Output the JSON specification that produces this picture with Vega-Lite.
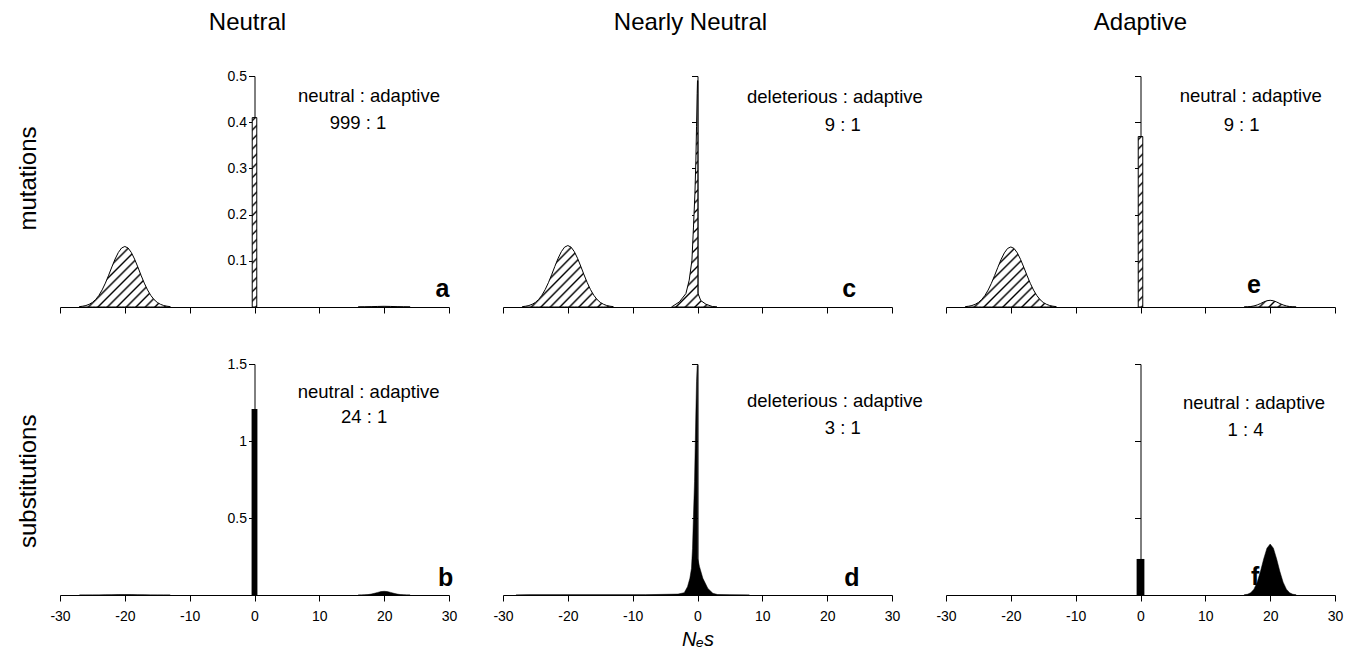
{
  "$schema": "https://vega.github.io/schema/vega-lite/v6.json",
  "background": "white",
  "padding": {"left": 16, "top": 10, "right": 5, "bottom": 5},
  "config": {
    "view": {"stroke": null},
    "font": "Liberation Sans",
    "axis": {"domainColor": "black", "tickColor": "black", "labelColor": "black", "titleColor": "black", "labelFont": "Liberation Sans", "titleFont": "Liberation Sans", "labelFontSize": 14, "tickSize": 6, "grid": false, "labelFlush": false, "domainWidth": 1, "tickWidth": 1},
    "title": {"font": "Liberation Sans", "fontSize": 24, "fontWeight": "normal", "color": "black"},
    "text": {"font": "Liberation Sans", "color": "black"}
  },
  "datasets": {
    "a_del": [
      {"s": -27, "density": 0.0008}, {"s": -26.5, "density": 0.0017}, {"s": -26, "density": 0.0032}, {"s": -25.5, "density": 0.0058}, {"s": -25, "density": 0.0099}, {"s": -24.5, "density": 0.0162}, {"s": -24, "density": 0.0251}, {"s": -23.5, "density": 0.037}, {"s": -23, "density": 0.0517}, {"s": -22.5, "density": 0.0687}, {"s": -22, "density": 0.0867}, {"s": -21.5, "density": 0.1038}, {"s": -21, "density": 0.118}, {"s": -20.5, "density": 0.1277}, {"s": -20, "density": 0.131}, {"s": -19.5, "density": 0.1277}, {"s": -19, "density": 0.118}, {"s": -18.5, "density": 0.1038}, {"s": -18, "density": 0.0867}, {"s": -17.5, "density": 0.0687}, {"s": -17, "density": 0.0517}, {"s": -16.5, "density": 0.037}, {"s": -16, "density": 0.0251}, {"s": -15.5, "density": 0.0162}, {"s": -15, "density": 0.0099}, {"s": -14.5, "density": 0.0058}, {"s": -14, "density": 0.0032}, {"s": -13.5, "density": 0.0017}, {"s": -13, "density": 0.0008}
    ],
    "a_neu": [{"from": -0.35, "to": 0.35, "density": 0.41}],
    "a_ada": [
      {"s": 16, "density": 0.0001}, {"s": 17, "density": 0.0003}, {"s": 18, "density": 0.0007}, {"s": 19, "density": 0.0012}, {"s": 20, "density": 0.0015}, {"s": 21, "density": 0.0012}, {"s": 22, "density": 0.0007}, {"s": 23, "density": 0.0003}, {"s": 24, "density": 0.0001}
    ],
    "b_del": [
      {"s": -27, "density": 0}, {"s": -26, "density": 0.0001}, {"s": -25, "density": 0.0003}, {"s": -24, "density": 0.0006}, {"s": -23, "density": 0.0012}, {"s": -22, "density": 0.002}, {"s": -21, "density": 0.0027}, {"s": -20, "density": 0.003}, {"s": -19, "density": 0.0027}, {"s": -18, "density": 0.002}, {"s": -17, "density": 0.0012}, {"s": -16, "density": 0.0006}, {"s": -15, "density": 0.0003}, {"s": -14, "density": 0.0001}, {"s": -13, "density": 0}
    ],
    "b_neu": [{"from": -0.45, "to": 0.45, "density": 1.208}],
    "b_ada": [
      {"s": 16, "density": 0.0001}, {"s": 16.5, "density": 0.0003}, {"s": 17, "density": 0.0011}, {"s": 17.5, "density": 0.0027}, {"s": 18, "density": 0.006}, {"s": 18.5, "density": 0.011}, {"s": 19, "density": 0.017}, {"s": 19.5, "density": 0.022}, {"s": 20, "density": 0.024}, {"s": 20.5, "density": 0.022}, {"s": 21, "density": 0.017}, {"s": 21.5, "density": 0.011}, {"s": 22, "density": 0.006}, {"s": 22.5, "density": 0.0027}, {"s": 23, "density": 0.0011}, {"s": 23.5, "density": 0.0003}, {"s": 24, "density": 0.0001}
    ],
    "c_del": [
      {"s": -27, "density": 0.0008}, {"s": -26.5, "density": 0.0017}, {"s": -26, "density": 0.0032}, {"s": -25.5, "density": 0.0059}, {"s": -25, "density": 0.01}, {"s": -24.5, "density": 0.0164}, {"s": -24, "density": 0.0255}, {"s": -23.5, "density": 0.0376}, {"s": -23, "density": 0.0525}, {"s": -22.5, "density": 0.0697}, {"s": -22, "density": 0.088}, {"s": -21.5, "density": 0.1054}, {"s": -21, "density": 0.1198}, {"s": -20.5, "density": 0.1296}, {"s": -20, "density": 0.133}, {"s": -19.5, "density": 0.1296}, {"s": -19, "density": 0.1198}, {"s": -18.5, "density": 0.1054}, {"s": -18, "density": 0.088}, {"s": -17.5, "density": 0.0697}, {"s": -17, "density": 0.0525}, {"s": -16.5, "density": 0.0376}, {"s": -16, "density": 0.0255}, {"s": -15.5, "density": 0.0164}, {"s": -15, "density": 0.01}, {"s": -14.5, "density": 0.0059}, {"s": -14, "density": 0.0032}, {"s": -13.5, "density": 0.0017}, {"s": -13, "density": 0.0008}
    ],
    "c_nn": [
      {"s": -4, "density": 0}, {"s": -3.9, "density": 0.001}, {"s": -2.8, "density": 0.011}, {"s": -1.79, "density": 0.029}, {"s": -1.28, "density": 0.058}, {"s": -0.86, "density": 0.101}, {"s": -0.62, "density": 0.173}, {"s": -0.4, "density": 0.245}, {"s": -0.25, "density": 0.318}, {"s": -0.15, "density": 0.39}, {"s": -0.05, "density": 0.462}, {"s": 0, "density": 0.49}, {"s": 0.05, "density": 0.49}, {"s": 0.06, "density": 0.03}, {"s": 0.5, "density": 0.014}, {"s": 1.3, "density": 0.006}, {"s": 2.3, "density": 0.001}, {"s": 3, "density": 0}
    ],
    "d_nn": [
      {"s": -28, "density": 0}, {"s": -26, "density": 0.002}, {"s": -8, "density": 0.002}, {"s": -3, "density": 0.006}, {"s": -2.05, "density": 0.015}, {"s": -1.54, "density": 0.054}, {"s": -1.18, "density": 0.108}, {"s": -0.93, "density": 0.173}, {"s": -0.77, "density": 0.303}, {"s": -0.62, "density": 0.52}, {"s": -0.46, "density": 0.736}, {"s": -0.36, "density": 0.952}, {"s": -0.26, "density": 1.169}, {"s": -0.15, "density": 1.385}, {"s": -0.05, "density": 1.49}, {"s": 0.02, "density": 1.49}, {"s": 0.03, "density": 0.238}, {"s": 0.31, "density": 0.184}, {"s": 0.83, "density": 0.108}, {"s": 1.6, "density": 0.043}, {"s": 2.37, "density": 0.011}, {"s": 3.1, "density": 0.003}, {"s": 5, "density": 0.001}, {"s": 8, "density": 0}
    ],
    "e_del": [
      {"s": -27, "density": 0.0008}, {"s": -26.5, "density": 0.0017}, {"s": -26, "density": 0.0032}, {"s": -25.5, "density": 0.0058}, {"s": -25, "density": 0.0098}, {"s": -24.5, "density": 0.0161}, {"s": -24, "density": 0.0249}, {"s": -23.5, "density": 0.0367}, {"s": -23, "density": 0.0513}, {"s": -22.5, "density": 0.0682}, {"s": -22, "density": 0.086}, {"s": -21.5, "density": 0.103}, {"s": -21, "density": 0.1171}, {"s": -20.5, "density": 0.1267}, {"s": -20, "density": 0.13}, {"s": -19.5, "density": 0.1267}, {"s": -19, "density": 0.1171}, {"s": -18.5, "density": 0.103}, {"s": -18, "density": 0.086}, {"s": -17.5, "density": 0.0682}, {"s": -17, "density": 0.0513}, {"s": -16.5, "density": 0.0367}, {"s": -16, "density": 0.0249}, {"s": -15.5, "density": 0.0161}, {"s": -15, "density": 0.0098}, {"s": -14.5, "density": 0.0058}, {"s": -14, "density": 0.0032}, {"s": -13.5, "density": 0.0017}, {"s": -13, "density": 0.0008}
    ],
    "e_neu": [{"from": -0.35, "to": 0.35, "density": 0.369}],
    "e_ada": [
      {"s": 16, "density": 0.0001}, {"s": 16.5, "density": 0.0004}, {"s": 17, "density": 0.001}, {"s": 17.5, "density": 0.0023}, {"s": 18, "density": 0.0044}, {"s": 18.5, "density": 0.0074}, {"s": 19, "density": 0.0108}, {"s": 19.5, "density": 0.0135}, {"s": 20, "density": 0.0145}, {"s": 20.5, "density": 0.0135}, {"s": 21, "density": 0.0108}, {"s": 21.5, "density": 0.0074}, {"s": 22, "density": 0.0044}, {"s": 22.5, "density": 0.0023}, {"s": 23, "density": 0.001}, {"s": 23.5, "density": 0.0004}, {"s": 24, "density": 0.0001}
    ],
    "f_neu": [{"from": -0.6, "to": 0.6, "density": 0.234}],
    "f_ada": [
      {"s": 16, "density": 0.0013}, {"s": 16.5, "density": 0.0047}, {"s": 17, "density": 0.0145}, {"s": 17.5, "density": 0.038}, {"s": 18, "density": 0.083}, {"s": 18.5, "density": 0.152}, {"s": 19, "density": 0.234}, {"s": 19.5, "density": 0.304}, {"s": 20, "density": 0.331}, {"s": 20.5, "density": 0.304}, {"s": 21, "density": 0.234}, {"s": 21.5, "density": 0.152}, {"s": 22, "density": 0.083}, {"s": 22.5, "density": 0.038}, {"s": 23, "density": 0.0145}, {"s": 23.5, "density": 0.0047}, {"s": 24, "density": 0.0013}
    ]
  },
  "vconcat": [
    {
      "title": {"text": "mutations", "orient": "left", "offset": 19, "dx": 83},
      "spacing": 54,
      "bounds": "flush",
      "hconcat": [
        {
          "width": 389, "height": 231,
          "title": {"text": "Neutral", "offset": 34, "dx": -7},
          "layer": [
            {
              "data": {"name": "a_del"},
              "mark": {"type": "area", "stroke": "black", "strokeWidth": 1, "fill": {"gradient": "linear", "x1": 0, "y1": 0, "x2": 1.5253, "y2": 1.017, "stops": [{"offset":0.005,"color":"white"},{"offset":0.015,"color":"black"},{"offset":0.025,"color":"white"},{"offset":0.0525,"color":"white"},{"offset":0.0625,"color":"black"},{"offset":0.0725,"color":"white"},{"offset":0.1,"color":"white"},{"offset":0.11,"color":"black"},{"offset":0.12,"color":"white"},{"offset":0.1475,"color":"white"},{"offset":0.1575,"color":"black"},{"offset":0.1675,"color":"white"},{"offset":0.195,"color":"white"},{"offset":0.205,"color":"black"},{"offset":0.215,"color":"white"},{"offset":0.2425,"color":"white"},{"offset":0.2525,"color":"black"},{"offset":0.2625,"color":"white"},{"offset":0.29,"color":"white"},{"offset":0.3,"color":"black"},{"offset":0.31,"color":"white"},{"offset":0.3375,"color":"white"},{"offset":0.3475,"color":"black"},{"offset":0.3575,"color":"white"},{"offset":0.385,"color":"white"},{"offset":0.395,"color":"black"},{"offset":0.405,"color":"white"},{"offset":0.4325,"color":"white"},{"offset":0.4425,"color":"black"},{"offset":0.4525,"color":"white"},{"offset":0.48,"color":"white"},{"offset":0.49,"color":"black"},{"offset":0.5,"color":"white"},{"offset":0.5275,"color":"white"},{"offset":0.5375,"color":"black"},{"offset":0.5475,"color":"white"},{"offset":0.575,"color":"white"},{"offset":0.585,"color":"black"},{"offset":0.595,"color":"white"},{"offset":0.6225,"color":"white"},{"offset":0.6325,"color":"black"},{"offset":0.6425,"color":"white"},{"offset":0.67,"color":"white"},{"offset":0.68,"color":"black"},{"offset":0.69,"color":"white"},{"offset":0.7175,"color":"white"},{"offset":0.7275,"color":"black"},{"offset":0.7375,"color":"white"},{"offset":0.765,"color":"white"},{"offset":0.775,"color":"black"},{"offset":0.785,"color":"white"}]}},
              "encoding": {
                "x": {"field": "s", "type": "quantitative", "scale": {"domain": [-30, 30], "nice": false, "zero": false}, "axis": {"values": [-30, -20, -10, 0, 10, 20, 30], "labels": false, "title": null}},
                "y": {"field": "density", "type": "quantitative", "scale": {"domain": [0, 0.5], "nice": false}, "axis": {"values": [0.1, 0.2, 0.3, 0.4, 0.5], "offset": -194.5, "format": "~g", "labelPadding": 2, "title": null}}
              }
            },
            {
              "data": {"name": "a_neu"},
              "mark": {"type": "rect", "stroke": "black", "strokeWidth": 1, "fill": {"gradient": "linear", "x1": 0, "y1": 0, "x2": 0.0253, "y2": 1.0554, "stops": [{"offset":0.005,"color":"white"},{"offset":0.015,"color":"black"},{"offset":0.025,"color":"white"},{"offset":0.0525,"color":"white"},{"offset":0.0625,"color":"black"},{"offset":0.0725,"color":"white"},{"offset":0.1,"color":"white"},{"offset":0.11,"color":"black"},{"offset":0.12,"color":"white"},{"offset":0.1475,"color":"white"},{"offset":0.1575,"color":"black"},{"offset":0.1675,"color":"white"},{"offset":0.195,"color":"white"},{"offset":0.205,"color":"black"},{"offset":0.215,"color":"white"},{"offset":0.2425,"color":"white"},{"offset":0.2525,"color":"black"},{"offset":0.2625,"color":"white"},{"offset":0.29,"color":"white"},{"offset":0.3,"color":"black"},{"offset":0.31,"color":"white"},{"offset":0.3375,"color":"white"},{"offset":0.3475,"color":"black"},{"offset":0.3575,"color":"white"},{"offset":0.385,"color":"white"},{"offset":0.395,"color":"black"},{"offset":0.405,"color":"white"},{"offset":0.4325,"color":"white"},{"offset":0.4425,"color":"black"},{"offset":0.4525,"color":"white"},{"offset":0.48,"color":"white"},{"offset":0.49,"color":"black"},{"offset":0.5,"color":"white"},{"offset":0.5275,"color":"white"},{"offset":0.5375,"color":"black"},{"offset":0.5475,"color":"white"},{"offset":0.575,"color":"white"},{"offset":0.585,"color":"black"},{"offset":0.595,"color":"white"},{"offset":0.6225,"color":"white"},{"offset":0.6325,"color":"black"},{"offset":0.6425,"color":"white"},{"offset":0.67,"color":"white"},{"offset":0.68,"color":"black"},{"offset":0.69,"color":"white"},{"offset":0.7175,"color":"white"},{"offset":0.7275,"color":"black"},{"offset":0.7375,"color":"white"},{"offset":0.765,"color":"white"},{"offset":0.775,"color":"black"},{"offset":0.785,"color":"white"},{"offset":0.8125,"color":"white"},{"offset":0.8225,"color":"black"},{"offset":0.8325,"color":"white"},{"offset":0.86,"color":"white"},{"offset":0.87,"color":"black"},{"offset":0.88,"color":"white"},{"offset":0.9075,"color":"white"},{"offset":0.9175,"color":"black"},{"offset":0.9275,"color":"white"},{"offset":0.955,"color":"white"},{"offset":0.965,"color":"black"},{"offset":0.975,"color":"white"}]}},
              "encoding": {"x": {"field": "from", "type": "quantitative"}, "x2": {"field": "to"}, "y": {"field": "density", "type": "quantitative"}, "y2": {"datum": 0}}
            },
            {
              "data": {"name": "a_ada"},
              "mark": {"type": "area", "fill": "white", "stroke": "black", "strokeWidth": 1},
              "encoding": {"x": {"field": "s", "type": "quantitative"}, "y": {"field": "density", "type": "quantitative"}}
            },
            {"data": {"values": [{"label": "neutral : adaptive"}]}, "mark": {"type": "text", "fontSize": 18.5, "baseline": "middle", "align": "center"}, "encoding": {"text": {"field": "label"}, "x": {"datum": 17.66}, "y": {"datum": 0.4567}}},
            {"data": {"values": [{"label": "999 : 1"}]}, "mark": {"type": "text", "fontSize": 18.5, "baseline": "middle", "align": "center"}, "encoding": {"text": {"field": "label"}, "x": {"datum": 15.97}, "y": {"datum": 0.398}}},
            {"data": {"values": [{"label": "a"}]}, "mark": {"type": "text", "fontSize": 25, "fontWeight": "bold", "baseline": "alphabetic", "align": "center"}, "encoding": {"text": {"field": "label"}, "x": {"datum": 29}, "y": {"datum": 0.0216}}}
          ]
        },
        {
          "width": 389, "height": 231,
          "title": {"text": "Nearly Neutral", "offset": 41, "dx": -7},
          "layer": [
            {
              "data": {"name": "c_del"},
              "mark": {"type": "area", "stroke": "black", "strokeWidth": 1, "fill": {"gradient": "linear", "x1": 0, "y1": 0, "x2": 1.5253, "y2": 1.017, "stops": [{"offset":0.005,"color":"white"},{"offset":0.015,"color":"black"},{"offset":0.025,"color":"white"},{"offset":0.0525,"color":"white"},{"offset":0.0625,"color":"black"},{"offset":0.0725,"color":"white"},{"offset":0.1,"color":"white"},{"offset":0.11,"color":"black"},{"offset":0.12,"color":"white"},{"offset":0.1475,"color":"white"},{"offset":0.1575,"color":"black"},{"offset":0.1675,"color":"white"},{"offset":0.195,"color":"white"},{"offset":0.205,"color":"black"},{"offset":0.215,"color":"white"},{"offset":0.2425,"color":"white"},{"offset":0.2525,"color":"black"},{"offset":0.2625,"color":"white"},{"offset":0.29,"color":"white"},{"offset":0.3,"color":"black"},{"offset":0.31,"color":"white"},{"offset":0.3375,"color":"white"},{"offset":0.3475,"color":"black"},{"offset":0.3575,"color":"white"},{"offset":0.385,"color":"white"},{"offset":0.395,"color":"black"},{"offset":0.405,"color":"white"},{"offset":0.4325,"color":"white"},{"offset":0.4425,"color":"black"},{"offset":0.4525,"color":"white"},{"offset":0.48,"color":"white"},{"offset":0.49,"color":"black"},{"offset":0.5,"color":"white"},{"offset":0.5275,"color":"white"},{"offset":0.5375,"color":"black"},{"offset":0.5475,"color":"white"},{"offset":0.575,"color":"white"},{"offset":0.585,"color":"black"},{"offset":0.595,"color":"white"},{"offset":0.6225,"color":"white"},{"offset":0.6325,"color":"black"},{"offset":0.6425,"color":"white"},{"offset":0.67,"color":"white"},{"offset":0.68,"color":"black"},{"offset":0.69,"color":"white"},{"offset":0.7175,"color":"white"},{"offset":0.7275,"color":"black"},{"offset":0.7375,"color":"white"},{"offset":0.765,"color":"white"},{"offset":0.775,"color":"black"},{"offset":0.785,"color":"white"}]}},
              "encoding": {
                "x": {"field": "s", "type": "quantitative", "scale": {"domain": [-30, 30], "nice": false, "zero": false}, "axis": {"values": [-30, -20, -10, 0, 10, 20, 30], "labels": false, "title": null}},
                "y": {"field": "density", "type": "quantitative", "scale": {"domain": [0, 0.5], "nice": false}, "axis": {"values": [0.1, 0.2, 0.3, 0.4, 0.5], "offset": -194.5, "labels": false, "title": null}}
              }
            },
            {
              "data": {"name": "c_nn"},
              "mark": {"type": "area", "stroke": "black", "strokeWidth": 1, "fill": {"gradient": "linear", "x1": 1, "y1": 1, "x2": 0.8297, "y2": 0.1507, "stops": [{"offset":0.005,"color":"white"},{"offset":0.015,"color":"black"},{"offset":0.025,"color":"white"},{"offset":0.0525,"color":"white"},{"offset":0.0625,"color":"black"},{"offset":0.0725,"color":"white"},{"offset":0.1,"color":"white"},{"offset":0.11,"color":"black"},{"offset":0.12,"color":"white"},{"offset":0.1475,"color":"white"},{"offset":0.1575,"color":"black"},{"offset":0.1675,"color":"white"},{"offset":0.195,"color":"white"},{"offset":0.205,"color":"black"},{"offset":0.215,"color":"white"},{"offset":0.2425,"color":"white"},{"offset":0.2525,"color":"black"},{"offset":0.2625,"color":"white"},{"offset":0.29,"color":"white"},{"offset":0.3,"color":"black"},{"offset":0.31,"color":"white"},{"offset":0.3375,"color":"white"},{"offset":0.3475,"color":"black"},{"offset":0.3575,"color":"white"},{"offset":0.385,"color":"white"},{"offset":0.395,"color":"black"},{"offset":0.405,"color":"white"},{"offset":0.4325,"color":"white"},{"offset":0.4425,"color":"black"},{"offset":0.4525,"color":"white"},{"offset":0.48,"color":"white"},{"offset":0.49,"color":"black"},{"offset":0.5,"color":"white"},{"offset":0.5275,"color":"white"},{"offset":0.5375,"color":"black"},{"offset":0.5475,"color":"white"},{"offset":0.575,"color":"white"},{"offset":0.585,"color":"black"},{"offset":0.595,"color":"white"},{"offset":0.6225,"color":"white"},{"offset":0.6325,"color":"black"},{"offset":0.6425,"color":"white"},{"offset":0.67,"color":"white"},{"offset":0.68,"color":"black"},{"offset":0.69,"color":"white"},{"offset":0.7175,"color":"white"},{"offset":0.7275,"color":"black"},{"offset":0.7375,"color":"white"},{"offset":0.765,"color":"white"},{"offset":0.775,"color":"black"},{"offset":0.785,"color":"white"},{"offset":0.8125,"color":"white"},{"offset":0.8225,"color":"black"},{"offset":0.8325,"color":"white"},{"offset":0.86,"color":"white"},{"offset":0.87,"color":"black"},{"offset":0.88,"color":"white"},{"offset":0.9075,"color":"white"},{"offset":0.9175,"color":"black"},{"offset":0.9275,"color":"white"},{"offset":0.955,"color":"white"},{"offset":0.965,"color":"black"},{"offset":0.975,"color":"white"}]}},
              "encoding": {"x": {"field": "s", "type": "quantitative"}, "y": {"field": "density", "type": "quantitative"}}
            },
            {"data": {"values": [{"label": "deleterious : adaptive"}]}, "mark": {"type": "text", "fontSize": 18.5, "baseline": "middle", "align": "center"}, "encoding": {"text": {"field": "label"}, "x": {"datum": 21.2}, "y": {"datum": 0.4545}}},
            {"data": {"values": [{"label": "9 : 1"}]}, "mark": {"type": "text", "fontSize": 18.5, "baseline": "middle", "align": "center"}, "encoding": {"text": {"field": "label"}, "x": {"datum": 22.4}, "y": {"datum": 0.394}}},
            {"data": {"values": [{"label": "c"}]}, "mark": {"type": "text", "fontSize": 25, "fontWeight": "bold", "baseline": "alphabetic", "align": "center"}, "encoding": {"text": {"field": "label"}, "x": {"datum": 23.4}, "y": {"datum": 0.0216}}}
          ]
        },
        {
          "width": 389, "height": 231,
          "title": {"text": "Adaptive", "offset": 41},
          "layer": [
            {
              "data": {"name": "e_del"},
              "mark": {"type": "area", "stroke": "black", "strokeWidth": 1, "fill": {"gradient": "linear", "x1": 0, "y1": 0, "x2": 1.5253, "y2": 1.017, "stops": [{"offset":0.005,"color":"white"},{"offset":0.015,"color":"black"},{"offset":0.025,"color":"white"},{"offset":0.0525,"color":"white"},{"offset":0.0625,"color":"black"},{"offset":0.0725,"color":"white"},{"offset":0.1,"color":"white"},{"offset":0.11,"color":"black"},{"offset":0.12,"color":"white"},{"offset":0.1475,"color":"white"},{"offset":0.1575,"color":"black"},{"offset":0.1675,"color":"white"},{"offset":0.195,"color":"white"},{"offset":0.205,"color":"black"},{"offset":0.215,"color":"white"},{"offset":0.2425,"color":"white"},{"offset":0.2525,"color":"black"},{"offset":0.2625,"color":"white"},{"offset":0.29,"color":"white"},{"offset":0.3,"color":"black"},{"offset":0.31,"color":"white"},{"offset":0.3375,"color":"white"},{"offset":0.3475,"color":"black"},{"offset":0.3575,"color":"white"},{"offset":0.385,"color":"white"},{"offset":0.395,"color":"black"},{"offset":0.405,"color":"white"},{"offset":0.4325,"color":"white"},{"offset":0.4425,"color":"black"},{"offset":0.4525,"color":"white"},{"offset":0.48,"color":"white"},{"offset":0.49,"color":"black"},{"offset":0.5,"color":"white"},{"offset":0.5275,"color":"white"},{"offset":0.5375,"color":"black"},{"offset":0.5475,"color":"white"},{"offset":0.575,"color":"white"},{"offset":0.585,"color":"black"},{"offset":0.595,"color":"white"},{"offset":0.6225,"color":"white"},{"offset":0.6325,"color":"black"},{"offset":0.6425,"color":"white"},{"offset":0.67,"color":"white"},{"offset":0.68,"color":"black"},{"offset":0.69,"color":"white"},{"offset":0.7175,"color":"white"},{"offset":0.7275,"color":"black"},{"offset":0.7375,"color":"white"},{"offset":0.765,"color":"white"},{"offset":0.775,"color":"black"},{"offset":0.785,"color":"white"}]}},
              "encoding": {
                "x": {"field": "s", "type": "quantitative", "scale": {"domain": [-30, 30], "nice": false, "zero": false}, "axis": {"values": [-30, -20, -10, 0, 10, 20, 30], "labels": false, "title": null}},
                "y": {"field": "density", "type": "quantitative", "scale": {"domain": [0, 0.5], "nice": false}, "axis": {"values": [0.1, 0.2, 0.3, 0.4, 0.5], "offset": -194.5, "labels": false, "title": null}}
              }
            },
            {
              "data": {"name": "e_neu"},
              "mark": {"type": "rect", "stroke": "black", "strokeWidth": 1, "fill": {"gradient": "linear", "x1": 0, "y1": 0, "x2": 0.0312, "y2": 1.1722, "stops": [{"offset":0.005,"color":"white"},{"offset":0.015,"color":"black"},{"offset":0.025,"color":"white"},{"offset":0.0525,"color":"white"},{"offset":0.0625,"color":"black"},{"offset":0.0725,"color":"white"},{"offset":0.1,"color":"white"},{"offset":0.11,"color":"black"},{"offset":0.12,"color":"white"},{"offset":0.1475,"color":"white"},{"offset":0.1575,"color":"black"},{"offset":0.1675,"color":"white"},{"offset":0.195,"color":"white"},{"offset":0.205,"color":"black"},{"offset":0.215,"color":"white"},{"offset":0.2425,"color":"white"},{"offset":0.2525,"color":"black"},{"offset":0.2625,"color":"white"},{"offset":0.29,"color":"white"},{"offset":0.3,"color":"black"},{"offset":0.31,"color":"white"},{"offset":0.3375,"color":"white"},{"offset":0.3475,"color":"black"},{"offset":0.3575,"color":"white"},{"offset":0.385,"color":"white"},{"offset":0.395,"color":"black"},{"offset":0.405,"color":"white"},{"offset":0.4325,"color":"white"},{"offset":0.4425,"color":"black"},{"offset":0.4525,"color":"white"},{"offset":0.48,"color":"white"},{"offset":0.49,"color":"black"},{"offset":0.5,"color":"white"},{"offset":0.5275,"color":"white"},{"offset":0.5375,"color":"black"},{"offset":0.5475,"color":"white"},{"offset":0.575,"color":"white"},{"offset":0.585,"color":"black"},{"offset":0.595,"color":"white"},{"offset":0.6225,"color":"white"},{"offset":0.6325,"color":"black"},{"offset":0.6425,"color":"white"},{"offset":0.67,"color":"white"},{"offset":0.68,"color":"black"},{"offset":0.69,"color":"white"},{"offset":0.7175,"color":"white"},{"offset":0.7275,"color":"black"},{"offset":0.7375,"color":"white"},{"offset":0.765,"color":"white"},{"offset":0.775,"color":"black"},{"offset":0.785,"color":"white"},{"offset":0.8125,"color":"white"},{"offset":0.8225,"color":"black"},{"offset":0.8325,"color":"white"},{"offset":0.86,"color":"white"},{"offset":0.87,"color":"black"},{"offset":0.88,"color":"white"},{"offset":0.9075,"color":"white"},{"offset":0.9175,"color":"black"},{"offset":0.9275,"color":"white"}]}},
              "encoding": {"x": {"field": "from", "type": "quantitative"}, "x2": {"field": "to"}, "y": {"field": "density", "type": "quantitative"}, "y2": {"datum": 0}}
            },
            {
              "data": {"name": "e_ada"},
              "mark": {"type": "area", "stroke": "black", "strokeWidth": 1, "fill": {"gradient": "linear", "x1": 0, "y1": 0, "x2": 3.79, "y2": 0.4892, "stops": [{"offset":0.005,"color":"white"},{"offset":0.015,"color":"black"},{"offset":0.025,"color":"white"},{"offset":0.0525,"color":"white"},{"offset":0.0625,"color":"black"},{"offset":0.0725,"color":"white"},{"offset":0.1,"color":"white"},{"offset":0.11,"color":"black"},{"offset":0.12,"color":"white"},{"offset":0.1475,"color":"white"},{"offset":0.1575,"color":"black"},{"offset":0.1675,"color":"white"},{"offset":0.195,"color":"white"},{"offset":0.205,"color":"black"},{"offset":0.215,"color":"white"},{"offset":0.2425,"color":"white"},{"offset":0.2525,"color":"black"},{"offset":0.2625,"color":"white"},{"offset":0.29,"color":"white"},{"offset":0.3,"color":"black"},{"offset":0.31,"color":"white"}]}},
              "encoding": {"x": {"field": "s", "type": "quantitative"}, "y": {"field": "density", "type": "quantitative"}}
            },
            {"data": {"values": [{"label": "neutral : adaptive"}]}, "mark": {"type": "text", "fontSize": 18.5, "baseline": "middle", "align": "center"}, "encoding": {"text": {"field": "label"}, "x": {"datum": 17.0}, "y": {"datum": 0.4567}}},
            {"data": {"values": [{"label": "9 : 1"}]}, "mark": {"type": "text", "fontSize": 18.5, "baseline": "middle", "align": "center"}, "encoding": {"text": {"field": "label"}, "x": {"datum": 15.6}, "y": {"datum": 0.394}}},
            {"data": {"values": [{"label": "e"}]}, "mark": {"type": "text", "fontSize": 25, "fontWeight": "bold", "baseline": "alphabetic", "align": "center"}, "encoding": {"text": {"field": "label"}, "x": {"datum": 17.5}, "y": {"datum": 0.03}}}
          ]
        }
      ]
    },
    {
      "title": {"text": "substitutions", "orient": "left", "offset": 9, "dx": 101},
      "spacing": 54,
      "bounds": "flush",
      "hconcat": [
        {
          "width": 389, "height": 231,
          "layer": [
            {
              "data": {"name": "b_del"},
              "mark": {"type": "area", "fill": "black", "stroke": "black", "strokeWidth": 0.5},
              "encoding": {
                "x": {"field": "s", "type": "quantitative", "scale": {"domain": [-30, 30], "nice": false, "zero": false}, "axis": {"values": [-30, -20, -10, 0, 10, 20, 30], "title": null, "labelPadding": 8, "labelExpr": "replace(datum.label, '\u2212', '-')"}},
                "y": {"field": "density", "type": "quantitative", "scale": {"domain": [0, 1.5], "nice": false}, "axis": {"values": [0.5, 1, 1.5], "offset": -194.5, "format": "~g", "labelPadding": 2, "title": null}}
              }
            },
            {
              "data": {"name": "b_neu"},
              "mark": {"type": "rect", "fill": "black"},
              "encoding": {"x": {"field": "from", "type": "quantitative"}, "x2": {"field": "to"}, "y": {"field": "density", "type": "quantitative"}, "y2": {"datum": 0}}
            },
            {
              "data": {"name": "b_ada"},
              "mark": {"type": "area", "fill": "black", "stroke": "black", "strokeWidth": 0.5},
              "encoding": {"x": {"field": "s", "type": "quantitative"}, "y": {"field": "density", "type": "quantitative"}}
            },
            {"data": {"values": [{"label": "neutral : adaptive"}]}, "mark": {"type": "text", "fontSize": 18.5, "baseline": "middle", "align": "center"}, "encoding": {"text": {"field": "label"}, "x": {"datum": 17.6}, "y": {"datum": 1.32}}},
            {"data": {"values": [{"label": "24 : 1"}]}, "mark": {"type": "text", "fontSize": 18.5, "baseline": "middle", "align": "center"}, "encoding": {"text": {"field": "label"}, "x": {"datum": 16.9}, "y": {"datum": 1.158}}},
            {"data": {"values": [{"label": "b"}]}, "mark": {"type": "text", "fontSize": 25, "fontWeight": "bold", "baseline": "alphabetic", "align": "center"}, "encoding": {"text": {"field": "label"}, "x": {"datum": 29.5}, "y": {"datum": 0.056}}}
          ]
        },
        {
          "width": 389, "height": 231,
          "layer": [
            {
              "data": {"name": "d_nn"},
              "mark": {"type": "area", "fill": "black", "stroke": "black", "strokeWidth": 0.5},
              "encoding": {
                "x": {"field": "s", "type": "quantitative", "scale": {"domain": [-30, 30], "nice": false, "zero": false}, "axis": {"values": [-30, -20, -10, 0, 10, 20, 30], "title": "Nₑs", "titleFontSize": 20, "titleFontStyle": "italic", "titleFontWeight": "normal", "titlePadding": 6, "labelPadding": 8, "labelExpr": "replace(datum.label, '\u2212', '-')"}},
                "y": {"field": "density", "type": "quantitative", "scale": {"domain": [0, 1.5], "nice": false}, "axis": {"values": [0.5, 1, 1.5], "offset": -194.5, "labels": false, "title": null}}
              }
            },
            {"data": {"values": [{"label": "deleterious : adaptive"}]}, "mark": {"type": "text", "fontSize": 18.5, "baseline": "middle", "align": "center"}, "encoding": {"text": {"field": "label"}, "x": {"datum": 21.2}, "y": {"datum": 1.262}}},
            {"data": {"values": [{"label": "3 : 1"}]}, "mark": {"type": "text", "fontSize": 18.5, "baseline": "middle", "align": "center"}, "encoding": {"text": {"field": "label"}, "x": {"datum": 22.4}, "y": {"datum": 1.086}}},
            {"data": {"values": [{"label": "d"}]}, "mark": {"type": "text", "fontSize": 25, "fontWeight": "bold", "baseline": "alphabetic", "align": "center"}, "encoding": {"text": {"field": "label"}, "x": {"datum": 23.8}, "y": {"datum": 0.056}}}
          ]
        },
        {
          "width": 389, "height": 231,
          "layer": [
            {
              "data": {"name": "f_ada"},
              "mark": {"type": "area", "fill": "black", "stroke": "black", "strokeWidth": 0.5},
              "encoding": {
                "x": {"field": "s", "type": "quantitative", "scale": {"domain": [-30, 30], "nice": false, "zero": false}, "axis": {"values": [-30, -20, -10, 0, 10, 20, 30], "title": null, "labelPadding": 8, "labelExpr": "replace(datum.label, '\u2212', '-')"}},
                "y": {"field": "density", "type": "quantitative", "scale": {"domain": [0, 1.5], "nice": false}, "axis": {"values": [0.5, 1, 1.5], "offset": -194.5, "labels": false, "title": null}}
              }
            },
            {
              "data": {"name": "f_neu"},
              "mark": {"type": "rect", "fill": "black"},
              "encoding": {"x": {"field": "from", "type": "quantitative"}, "x2": {"field": "to"}, "y": {"field": "density", "type": "quantitative"}, "y2": {"datum": 0}}
            },
            {"data": {"values": [{"label": "neutral : adaptive"}]}, "mark": {"type": "text", "fontSize": 18.5, "baseline": "middle", "align": "center"}, "encoding": {"text": {"field": "label"}, "x": {"datum": 17.5}, "y": {"datum": 1.249}}},
            {"data": {"values": [{"label": "1 : 4"}]}, "mark": {"type": "text", "fontSize": 18.5, "baseline": "middle", "align": "center"}, "encoding": {"text": {"field": "label"}, "x": {"datum": 16.2}, "y": {"datum": 1.073}}},
            {"data": {"values": [{"label": "f"}]}, "mark": {"type": "text", "fontSize": 25, "fontWeight": "bold", "baseline": "alphabetic", "align": "center"}, "encoding": {"text": {"field": "label"}, "x": {"datum": 17.7}, "y": {"datum": 0.067}}}
          ]
        }
      ]
    }
  ],
  "spacing": 43,
  "bounds": "full"
}
